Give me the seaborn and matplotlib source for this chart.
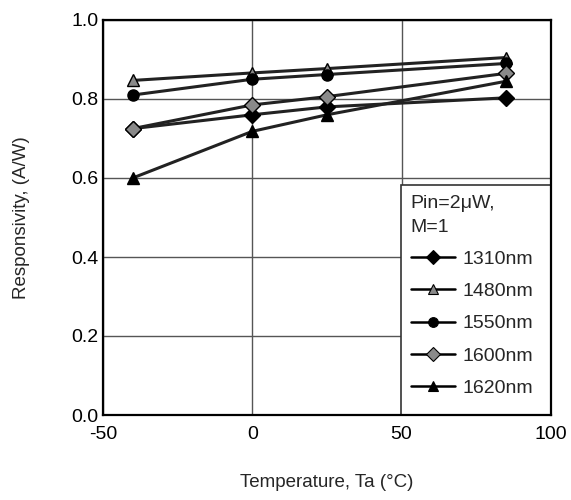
import matplotlib
matplotlib.use("Agg")
import matplotlib.pyplot as plt
import seaborn as sns
from matplotlib.patches import Rectangle
from matplotlib.lines import Line2D

temps = [-40, 0, 25, 85]
r1310 = [0.725, 0.760, 0.780, 0.803]
r1480 = [0.847, 0.866, 0.877, 0.905]
r1550 = [0.810, 0.850, 0.862, 0.890]
r1600 = [0.725, 0.785, 0.806, 0.865]
r1620 = [0.600, 0.718, 0.760, 0.845]
labels = ["1310nm", "1480nm", "1550nm", "1600nm", "1620nm"]
series = [r1310, r1480, r1550, r1600, r1620]
markers = ["D", "^", "o", "D", "^"]
faces = ["black", "#8a8a8a", "black", "#8a8a8a", "black"]
sizes = [8, 9, 8, 8, 9]

sns.set_theme(style="white")
plt.rcParams['font.family'] = ['Liberation Sans', 'DejaVu Sans']

fig = plt.figure(figsize=(5.71, 5.0), dpi=100)
ax = fig.add_axes([0.180, 0.17, 0.785, 0.79])

for lab, vals, m, fc, ms in zip(labels, series, markers, faces, sizes):
    sns.lineplot(x=temps, y=vals, ax=ax, color="#222222", lw=2.2, marker=m,
                 markersize=ms, markerfacecolor=fc, markeredgecolor="black",
                 markeredgewidth=1.0, label=lab, zorder=3)

ax.set_xlim(-50, 100)
ax.set_ylim(0, 1.0)
ax.set_xticks([-50, 0, 50, 100])
ax.set_yticks([0, 0.2, 0.4, 0.6, 0.8, 1.0])
ax.set_xticklabels(["-50", "0", "50", "100"])
ax.set_yticklabels(["0.0", "0.2", "0.4", "0.6", "0.8", "1.0"])
ax.tick_params(axis='both', length=0, labelsize=14, colors='black')
ax.tick_params(axis='x', pad=8)
ax.tick_params(axis='y', pad=3)
ax.grid(True, color="#555555", lw=1.0)
for s in ax.spines.values():
    s.set_color("black")
    s.set_linewidth(1.6)
    s.set_zorder(5)

ax.set_xlabel("Temperature, Ta (°C)", fontsize=13.5, labelpad=22)
ax.set_ylabel("Responsivity, (A/W)", fontsize=13.5, labelpad=30)

x0 = (401 - 103) / 448
y1 = (415 - 185) / 395
ax.add_patch(Rectangle((x0, 0), 1 - x0, y1, transform=ax.transAxes,
                       facecolor="white", edgecolor="#333333", lw=1.2, zorder=4))

handles, labs = ax.get_legend_handles_labels()
new_handles = []
for h, m, fc in zip(handles, markers, faces):
    new_handles.append(Line2D([], [], color="black", lw=1.8, marker=m,
                              markersize=7.5 if m != "o" else 7,
                              markerfacecolor=fc, markeredgecolor="black",
                              markeredgewidth=0.8))
leg = ax.legend(new_handles, labs, title="Pin=2μW,\nM=1", loc="upper left",
                bbox_to_anchor=(x0, y1), frameon=False, fontsize=14,
                title_fontsize=14, alignment="left", handlelength=2.3,
                handletextpad=0.35, labelspacing=0.75, borderpad=0.5,
                borderaxespad=0.0)
leg.get_title().set_linespacing(1.55)
leg.set_zorder(6)

fig.savefig("out.png", dpi=100)
